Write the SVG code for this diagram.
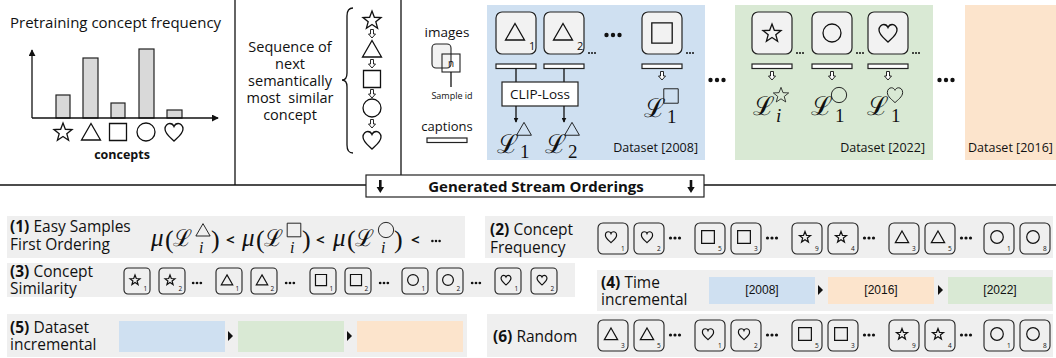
<svg xmlns="http://www.w3.org/2000/svg" width="1056" height="358" viewBox="0 0 1056 358">
<style>
text{font-family:"Open Sans","Noto Sans",sans-serif;fill:#111}
.ln{stroke:#111;stroke-width:1.3;fill:none}
.sym{fill:none;stroke:#111;vector-effect:non-scaling-stroke}
.tile{fill:#f2f2f2;stroke:#222;stroke-width:1.2}
.st{fill:none;stroke:#222;stroke-width:1.1}
.cbar{fill:#fff;stroke:#222;stroke-width:1.2}
.gbar{fill:#d9d9d9;stroke:#222;stroke-width:1.2}
.row{fill:#efefef}
.cal{font-family:"DejaVu Serif","Liberation Serif",serif}
.mr{font-family:"Liberation Serif","DejaVu Serif",serif}
.mi{font-family:"Liberation Serif","DejaVu Serif",serif;font-style:italic}
.sub{font-size:6.5px}
.lab{font-size:15.5px}
.ds{font-size:12.5px}
.seq{font-size:14.5px}
.yr{font-family:"Liberation Sans",Arial,sans-serif;font-size:12px}
.dot{fill:#111}
.blue{fill:#cfe0f1}
.green{fill:#d9e9d4}
.orange{fill:#fce4cc}
</style>
<defs>
<path id="star" class="sym" d="M0,-9 L2.35,-2.74 L9.03,-2.44 L3.8,1.74 L5.58,8.19 L0,4.5 L-5.58,8.19 L-3.8,1.74 L-9.03,-2.44 L-2.35,-2.74 Z"/>
<path id="tri" class="sym" d="M0,-8.5 L9.5,8 L-9.5,8 Z"/>
<rect id="sq" class="sym" x="-8.5" y="-8.5" width="17" height="17"/>
<circle id="cir" class="sym" r="9"/>
<path id="heart" class="sym" d="M0,9 C-3,6 -9,2 -9,-3 C-9,-6.5 -6.5,-8.5 -4.2,-8.5 C-2,-8.5 -0.6,-7 0,-5.5 C0.6,-7 2,-8.5 4.2,-8.5 C6.5,-8.5 9,-6.5 9,-3 C9,2 3,6 0,9 Z"/>
<path id="harr" d="M-1.5,-4.5 H1.5 V0 H3.5 L0,4 L-3.5,0 H-1.5 Z" fill="#fff" stroke="#111" stroke-width="0.9"/>
<g id="dots" class="dot"><circle cx="-4.5" r="1.6"/><circle r="1.6"/><circle cx="4.5" r="1.6"/></g>
<g id="bdots" class="dot"><circle cx="-6.5" r="2.2"/><circle r="2.2"/><circle cx="6.5" r="2.2"/></g>
<g id="tdots" class="dot"><circle cx="-3" r="1"/><circle r="1"/><circle cx="3" r="1"/></g>
<path id="rtri" d="M0,-5 L5,0 L0,5 Z" fill="#111"/>
<marker id="ah" viewBox="0 0 8 8" refX="7" refY="4" markerWidth="7" markerHeight="7" orient="auto" markerUnits="userSpaceOnUse"><path d="M0,0 L8,4 L0,8 Z" fill="#111"/></marker>
<marker id="ahs" viewBox="0 0 8 8" refX="7" refY="4" markerWidth="5" markerHeight="5" orient="auto" markerUnits="userSpaceOnUse"><path d="M0,0 L8,4 L0,8 Z" fill="#111"/></marker>
</defs>

<!-- frame lines -->
<g id="frame" class="ln">
<line x1="235" y1="0" x2="235" y2="185"/>
<line x1="401" y1="0" x2="401" y2="175"/>
<line x1="0" y1="185" x2="366" y2="185"/>
<line x1="704" y1="185" x2="1056" y2="185"/>
</g>

<!-- panel 1: pretraining frequency chart -->
<g id="freq-chart">
<text x="10" y="28" font-size="15">Pretraining concept frequency</text>
<rect class="gbar" x="56" y="95" width="14" height="23"/>
<rect class="gbar" x="83" y="58" width="15" height="60"/>
<rect class="gbar" x="111" y="103" width="14" height="15"/>
<rect class="gbar" x="139" y="49" width="15" height="69"/>
<rect class="gbar" x="167" y="110" width="15" height="8"/>
<line class="ln" x1="32" y1="118" x2="32" y2="50" marker-end="url(#ah)"/>
<line class="ln" x1="32" y1="118" x2="218" y2="118" marker-end="url(#ah)"/>
<use href="#star" transform="translate(63,132)" stroke-width="1.3"/>
<use href="#tri" transform="translate(91,132)" stroke-width="1.3"/>
<use href="#sq" transform="translate(118,132)" stroke-width="1.3"/>
<use href="#cir" transform="translate(146,132)" stroke-width="1.3"/>
<use href="#heart" transform="translate(174,132)" stroke-width="1.3"/>
<text x="122" y="159" font-size="12.5" font-weight="bold" text-anchor="middle">concepts</text>
</g>

<!-- panel 2: similarity sequence -->
<g id="similarity-seq">
<text class="seq" x="290" y="52" text-anchor="middle">Sequence of</text>
<text class="seq" x="290" y="69" text-anchor="middle">next</text>
<text class="seq" x="290" y="86" text-anchor="middle">semantically</text>
<text class="seq" x="290" y="103" text-anchor="middle" style="white-space:pre">most  similar</text>
<text class="seq" x="290" y="120" text-anchor="middle">concept</text>
<path class="ln" d="M353,8 Q347,8 347,16 L347,73 Q347,80 342,80 Q347,80 347,87 L347,145 Q347,153 353,153" stroke-width="1.1"/>
<use href="#star" transform="translate(372,20)" stroke-width="1.3"/>
<use href="#harr" transform="translate(372,34)"/>
<use href="#tri" transform="translate(372,49)" stroke-width="1.3"/>
<use href="#harr" transform="translate(372,64)"/>
<use href="#sq" transform="translate(372,79)" stroke-width="1.3"/>
<use href="#harr" transform="translate(372,94)"/>
<use href="#cir" transform="translate(372,108)" stroke-width="1.3"/>
<use href="#harr" transform="translate(372,124)"/>
<use href="#heart" transform="translate(372,140)" stroke-width="1.3"/>
</g>

<!-- legend -->
<g id="legend">
<text x="447" y="37" font-size="13.5" text-anchor="middle">images</text>
<rect x="432" y="44" width="19" height="24" rx="4" fill="#f2f2f2" stroke="#222" stroke-width="1.1"/>
<rect x="442" y="54" width="18" height="18" fill="none" stroke="#222" stroke-width="1.1"/>
<text x="451" y="67" font-size="10" text-anchor="middle">n</text>
<line class="ln" x1="451" y1="72" x2="451" y2="87" stroke-width="1"/>
<text x="452" y="99" font-size="9" text-anchor="middle">Sample id</text>
<text x="447" y="131" font-size="13" text-anchor="middle">captions</text>
<rect class="cbar" x="427" y="138" width="40" height="4.5"/>
</g>

<!-- dataset 2008 -->
<g id="dataset-2008">
<rect class="blue" x="487" y="5" width="218" height="155"/>
<rect class="tile" x="496" y="12" width="40" height="42" rx="6"/>
<use href="#tri" transform="translate(515,32)" stroke-width="1.3"/>
<text x="529" y="50" font-size="11">1</text>
<rect class="tile" x="544" y="12" width="40" height="42" rx="6"/>
<use href="#tri" transform="translate(563,32)" stroke-width="1.3"/>
<text x="577" y="50" font-size="11">2</text>
<use href="#tdots" transform="translate(592,53)"/>
<use href="#bdots" transform="translate(613,35)"/>
<rect class="tile" x="642" y="12" width="40" height="42" rx="6"/>
<use href="#sq" transform="translate(662,33) scale(1.2)" stroke-width="1.3"/>
<use href="#tdots" transform="translate(690,53)"/>
<rect class="cbar" x="496" y="64" width="40" height="4.5"/>
<rect class="cbar" x="544" y="64" width="40" height="4.5"/>
<rect class="cbar" x="642" y="64" width="40" height="4.5"/>
<line class="ln" x1="516" y1="68.5" x2="516" y2="82" stroke-width="1"/>
<line class="ln" x1="564" y1="68.5" x2="564" y2="82" stroke-width="1"/>
<rect x="502" y="82" width="76" height="24" fill="#fff" stroke="#222" stroke-width="1.2"/>
<text x="540" y="99" font-size="13.5" text-anchor="middle">CLIP-Loss</text>
<line class="ln" x1="516" y1="106" x2="516" y2="122" stroke-width="1" marker-end="url(#ahs)"/>
<line class="ln" x1="564" y1="106" x2="564" y2="122" stroke-width="1" marker-end="url(#ahs)"/>
<use href="#harr" transform="translate(662,76)"/>
<text class="cal" x="497" y="153" font-size="26">ℒ</text>
<use href="#tri" transform="translate(524,129) scale(0.78)" stroke-width="0.9"/>
<text class="mr" x="520" y="158" font-size="19">1</text>
<text class="cal" x="545" y="153" font-size="26">ℒ</text>
<use href="#tri" transform="translate(572,129) scale(0.78)" stroke-width="0.9"/>
<text class="mr" x="568" y="158" font-size="19">2</text>
<text class="cal" x="644" y="117" font-size="26">ℒ</text>
<use href="#sq" transform="translate(671,96) scale(0.85)" stroke-width="0.9"/>
<text class="mr" x="667" y="123" font-size="19">1</text>
<text class="ds" x="698" y="152" text-anchor="end">Dataset [2008]</text>
</g>

<use href="#bdots" transform="translate(717,80)"/>

<!-- dataset 2022 -->
<g id="dataset-2022">
<rect class="green" x="735" y="5" width="198" height="155"/>
<rect class="tile" x="752" y="12" width="40" height="42" rx="6"/>
<use href="#star" transform="translate(772,33)" stroke-width="1.3"/>
<use href="#tdots" transform="translate(800,53)"/>
<rect class="tile" x="812" y="12" width="40" height="42" rx="6"/>
<use href="#cir" transform="translate(832,33)" stroke-width="1.3"/>
<use href="#tdots" transform="translate(860,53)"/>
<rect class="tile" x="868" y="12" width="40" height="42" rx="6"/>
<use href="#heart" transform="translate(888,33)" stroke-width="1.3"/>
<use href="#tdots" transform="translate(916,53)"/>
<rect class="cbar" x="752" y="64" width="40" height="4.5"/>
<rect class="cbar" x="812" y="64" width="40" height="4.5"/>
<rect class="cbar" x="868" y="64" width="40" height="4.5"/>
<use href="#harr" transform="translate(772,76)"/>
<use href="#harr" transform="translate(832,76)"/>
<use href="#harr" transform="translate(888,76)"/>
<text class="cal" x="753" y="115" font-size="26">ℒ</text>
<use href="#star" transform="translate(781,95) scale(0.85)" stroke-width="0.8"/>
<text class="mi" x="776" y="122" font-size="19">i</text>
<text class="cal" x="811" y="115" font-size="26">ℒ</text>
<use href="#cir" transform="translate(839,95) scale(0.85)" stroke-width="0.9"/>
<text class="mr" x="835" y="122" font-size="19">1</text>
<text class="cal" x="867" y="115" font-size="26">ℒ</text>
<use href="#heart" transform="translate(895,95) scale(0.85)" stroke-width="0.9"/>
<text class="mr" x="891" y="122" font-size="19">1</text>
<text class="ds" x="925" y="152" text-anchor="end">Dataset [2022]</text>
</g>

<use href="#bdots" transform="translate(946,80)"/>

<!-- dataset 2016 -->
<g id="dataset-2016">
<rect class="orange" x="965" y="5" width="91" height="155"/>
<text class="ds" x="968" y="152">Dataset [2016]</text>
</g>

<!-- header -->
<g id="generated-header">
<rect x="366" y="175" width="338" height="22" fill="#fff" stroke="#222" stroke-width="1.2"/>
<text x="536" y="191.5" font-size="15" font-weight="bold" text-anchor="middle">Generated Stream Orderings</text>
<path d="M379,180 h2.6 v7 h2.4 l-3.7,6 l-3.7,-6 h2.4 Z" fill="#111"/>
<path d="M689.7,180 h2.6 v7 h2.4 l-3.7,6 l-3.7,-6 h2.4 Z" fill="#111"/>
</g>

<!-- (1) easy samples first -->
<g id="order-1">
<rect class="row" x="7" y="216" width="458" height="42"/>
<text class="lab" x="10" y="232"><tspan font-weight="bold">(1)</tspan> Easy Samples</text>
<text class="lab" x="10" y="250">First Ordering</text>
<text class="mi" x="151" y="246" font-size="25">μ</text>
<text class="mr" x="165" y="248" font-size="26">(</text>
<text class="cal" x="173" y="246" font-size="23">ℒ</text>
<use href="#tri" transform="translate(203,230) scale(0.75)" stroke-width="0.9"/>
<text class="mi" x="199" y="253" font-size="16">i</text>
<text class="mr" x="211" y="248" font-size="26">)</text>
<text x="226" y="245" font-size="15" font-weight="bold">&lt;</text>
<text class="mi" x="242" y="246" font-size="25">μ</text>
<text class="mr" x="256" y="248" font-size="26">(</text>
<text class="cal" x="264" y="246" font-size="23">ℒ</text>
<use href="#sq" transform="translate(294,230) scale(0.8)" stroke-width="0.9"/>
<text class="mi" x="290" y="253" font-size="16">i</text>
<text class="mr" x="302" y="248" font-size="26">)</text>
<text x="316" y="245" font-size="15" font-weight="bold">&lt;</text>
<text class="mi" x="333" y="246" font-size="25">μ</text>
<text class="mr" x="347" y="248" font-size="26">(</text>
<text class="cal" x="355" y="246" font-size="23">ℒ</text>
<use href="#cir" transform="translate(386,230) scale(0.85)" stroke-width="0.9"/>
<text class="mi" x="381" y="253" font-size="16">i</text>
<text class="mr" x="394" y="248" font-size="26">)</text>
<text x="411" y="245" font-size="15" font-weight="bold">&lt;</text>
<use href="#dots" transform="translate(436,241) scale(0.8)"/>
</g>

<!-- (2) concept frequency -->
<g id="order-2">
<rect class="row" x="485" y="216" width="568" height="42"/>
<text class="lab" x="490" y="235"><tspan font-weight="bold">(2)</tspan> Concept</text>
<text class="lab" x="490" y="253">Frequency</text>
<g transform="translate(598,223)"><rect class="st" width="30" height="31" rx="5"/><use href="#heart" transform="translate(13,14) scale(0.62)" stroke-width="1.2"/><text class="sub" x="23" y="28">1</text></g>
<g transform="translate(634,223)"><rect class="st" width="30" height="31" rx="5"/><use href="#heart" transform="translate(13,14) scale(0.62)" stroke-width="1.2"/><text class="sub" x="23" y="28">2</text></g>
<use href="#dots" transform="translate(675,238)"/>
<g transform="translate(695,223)"><rect class="st" width="30" height="31" rx="5"/><use href="#sq" transform="translate(13,14) scale(0.75)" stroke-width="1.2"/><text class="sub" x="23" y="28">5</text></g>
<g transform="translate(731,223)"><rect class="st" width="30" height="31" rx="5"/><use href="#sq" transform="translate(13,14) scale(0.75)" stroke-width="1.2"/><text class="sub" x="23" y="28">3</text></g>
<use href="#dots" transform="translate(772,238)"/>
<g transform="translate(792,223)"><rect class="st" width="30" height="31" rx="5"/><use href="#star" transform="translate(13,14) scale(0.62)" stroke-width="1.2"/><text class="sub" x="23" y="28">9</text></g>
<g transform="translate(828,223)"><rect class="st" width="30" height="31" rx="5"/><use href="#star" transform="translate(13,14) scale(0.62)" stroke-width="1.2"/><text class="sub" x="23" y="28">4</text></g>
<use href="#dots" transform="translate(869,238)"/>
<g transform="translate(889,223)"><rect class="st" width="30" height="31" rx="5"/><use href="#tri" transform="translate(13,14) scale(0.7)" stroke-width="1.2"/><text class="sub" x="23" y="28">3</text></g>
<g transform="translate(925,223)"><rect class="st" width="30" height="31" rx="5"/><use href="#tri" transform="translate(13,14) scale(0.7)" stroke-width="1.2"/><text class="sub" x="23" y="28">5</text></g>
<use href="#dots" transform="translate(966,238)"/>
<g transform="translate(984,223)"><rect class="st" width="30" height="31" rx="5"/><use href="#cir" transform="translate(13,14) scale(0.7)" stroke-width="1.2"/><text class="sub" x="23" y="28">1</text></g>
<g transform="translate(1020,223)"><rect class="st" width="30" height="31" rx="5"/><use href="#cir" transform="translate(13,14) scale(0.7)" stroke-width="1.2"/><text class="sub" x="23" y="28">8</text></g>
</g>

<!-- (3) concept similarity -->
<g id="order-3">
<rect class="row" x="7" y="263" width="568" height="34"/>
<text class="lab" x="10" y="277"><tspan font-weight="bold">(3)</tspan> Concept</text>
<text class="lab" x="10" y="294">Similarity</text>
<g transform="translate(124,268)"><rect class="st" width="26" height="26" rx="4"/><use href="#star" transform="translate(11,12) scale(0.55)" stroke-width="1.2"/><text class="sub" x="19.5" y="23">1</text></g>
<g transform="translate(159,268)"><rect class="st" width="26" height="26" rx="4"/><use href="#star" transform="translate(11,12) scale(0.55)" stroke-width="1.2"/><text class="sub" x="19.5" y="23">2</text></g>
<use href="#dots" transform="translate(197,283) scale(0.85)"/>
<g transform="translate(216,268)"><rect class="st" width="26" height="26" rx="4"/><use href="#tri" transform="translate(11,12) scale(0.6)" stroke-width="1.2"/><text class="sub" x="19.5" y="23">1</text></g>
<g transform="translate(251,268)"><rect class="st" width="26" height="26" rx="4"/><use href="#tri" transform="translate(11,12) scale(0.6)" stroke-width="1.2"/><text class="sub" x="19.5" y="23">2</text></g>
<use href="#dots" transform="translate(290,283) scale(0.85)"/>
<g transform="translate(310,268)"><rect class="st" width="26" height="26" rx="4"/><use href="#sq" transform="translate(11,12) scale(0.65)" stroke-width="1.2"/><text class="sub" x="19.5" y="23">1</text></g>
<g transform="translate(345,268)"><rect class="st" width="26" height="26" rx="4"/><use href="#sq" transform="translate(11,12) scale(0.65)" stroke-width="1.2"/><text class="sub" x="19.5" y="23">2</text></g>
<use href="#dots" transform="translate(384,283) scale(0.85)"/>
<g transform="translate(402,268)"><rect class="st" width="26" height="26" rx="4"/><use href="#cir" transform="translate(11,12) scale(0.6)" stroke-width="1.2"/><text class="sub" x="19.5" y="23">1</text></g>
<g transform="translate(437,268)"><rect class="st" width="26" height="26" rx="4"/><use href="#cir" transform="translate(11,12) scale(0.6)" stroke-width="1.2"/><text class="sub" x="19.5" y="23">2</text></g>
<use href="#dots" transform="translate(476,283) scale(0.85)"/>
<g transform="translate(495,268)"><rect class="st" width="26" height="26" rx="4"/><use href="#heart" transform="translate(11,12) scale(0.55)" stroke-width="1.2"/><text class="sub" x="19.5" y="23">1</text></g>
<g transform="translate(531,268)"><rect class="st" width="26" height="26" rx="4"/><use href="#heart" transform="translate(11,12) scale(0.55)" stroke-width="1.2"/><text class="sub" x="19.5" y="23">2</text></g>
</g>

<!-- (4) time incremental -->
<g id="order-4">
<rect class="row" x="597" y="270" width="456" height="41"/>
<text class="lab" x="601" y="288"><tspan font-weight="bold">(4)</tspan> Time</text>
<text class="lab" x="601" y="305">incremental</text>
<rect class="blue" x="709" y="277" width="106" height="27"/>
<text class="yr" x="762" y="294" text-anchor="middle">[2008]</text>
<use href="#rtri" transform="translate(818,290)"/>
<rect class="orange" x="828" y="277" width="106" height="27"/>
<text class="yr" x="881" y="294" text-anchor="middle">[2016]</text>
<use href="#rtri" transform="translate(938,290)"/>
<rect class="green" x="948" y="277" width="104" height="27"/>
<text class="yr" x="1000" y="294" text-anchor="middle">[2022]</text>
</g>

<!-- (5) dataset incremental -->
<g id="order-5">
<rect class="row" x="7" y="314" width="460" height="43"/>
<text class="lab" x="10" y="333"><tspan font-weight="bold">(5)</tspan> Dataset</text>
<text class="lab" x="10" y="350">incremental</text>
<rect class="blue" x="119" y="321" width="106" height="31"/>
<use href="#rtri" transform="translate(228,336)"/>
<rect class="green" x="238" y="321" width="106" height="31"/>
<use href="#rtri" transform="translate(347,336)"/>
<rect class="orange" x="357" y="321" width="106" height="31"/>
</g>

<!-- (6) random -->
<g id="order-6">
<rect class="row" x="487" y="314" width="566" height="43"/>
<text class="lab" x="493" y="342"><tspan font-weight="bold">(6)</tspan> Random</text>
<g transform="translate(598,320)"><rect class="st" width="30" height="31" rx="5"/><use href="#tri" transform="translate(13,14) scale(0.7)" stroke-width="1.2"/><text class="sub" x="23" y="28">3</text></g>
<g transform="translate(634,320)"><rect class="st" width="30" height="31" rx="5"/><use href="#tri" transform="translate(13,14) scale(0.7)" stroke-width="1.2"/><text class="sub" x="23" y="28">5</text></g>
<use href="#dots" transform="translate(675,335)"/>
<g transform="translate(695,320)"><rect class="st" width="30" height="31" rx="5"/><use href="#heart" transform="translate(13,14) scale(0.62)" stroke-width="1.2"/><text class="sub" x="23" y="28">1</text></g>
<g transform="translate(731,320)"><rect class="st" width="30" height="31" rx="5"/><use href="#heart" transform="translate(13,14) scale(0.62)" stroke-width="1.2"/><text class="sub" x="23" y="28">2</text></g>
<use href="#dots" transform="translate(772,335)"/>
<g transform="translate(792,320)"><rect class="st" width="30" height="31" rx="5"/><use href="#sq" transform="translate(13,14) scale(0.75)" stroke-width="1.2"/><text class="sub" x="23" y="28">5</text></g>
<g transform="translate(828,320)"><rect class="st" width="30" height="31" rx="5"/><use href="#sq" transform="translate(13,14) scale(0.75)" stroke-width="1.2"/><text class="sub" x="23" y="28">3</text></g>
<use href="#dots" transform="translate(869,335)"/>
<g transform="translate(889,320)"><rect class="st" width="30" height="31" rx="5"/><use href="#star" transform="translate(13,14) scale(0.62)" stroke-width="1.2"/><text class="sub" x="23" y="28">9</text></g>
<g transform="translate(925,320)"><rect class="st" width="30" height="31" rx="5"/><use href="#star" transform="translate(13,14) scale(0.62)" stroke-width="1.2"/><text class="sub" x="23" y="28">4</text></g>
<use href="#dots" transform="translate(966,335)"/>
<g transform="translate(984,320)"><rect class="st" width="30" height="31" rx="5"/><use href="#cir" transform="translate(13,14) scale(0.7)" stroke-width="1.2"/><text class="sub" x="23" y="28">1</text></g>
<g transform="translate(1020,320)"><rect class="st" width="30" height="31" rx="5"/><use href="#cir" transform="translate(13,14) scale(0.7)" stroke-width="1.2"/><text class="sub" x="23" y="28">8</text></g>
</g>
</svg>
